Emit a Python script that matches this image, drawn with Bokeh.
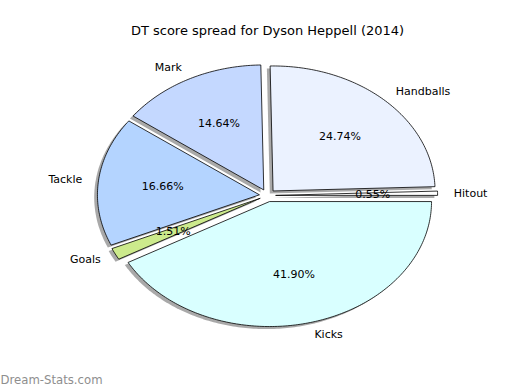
import numpy as np
from bokeh.plotting import figure
from bokeh.models import ColumnDataSource, Range1d, Label
from bokeh.embed import file_html
from bokeh.resources import INLINE
from bokeh.core.properties import value

# ---- data ----
labels = ["Hitout", "Handballs", "Mark", "Tackle", "Goals", "Kicks"]
percents = [0.55, 24.74, 14.64, 16.66, 1.51, 41.90]
colors = ["#ffffff", "#ebf2ff", "#c4d8ff", "#b4d4ff", "#ccea8c", "#d9ffff"]
explode = 0.05
title_text = "DT score spread for Dyson Heppell (2014)"
watermark = "Dream-Stats.com"

W, H = 520, 390
cx_px, cy_px = 267, 195      # pie centre within figure (px from left/top)
rx_px, ry_px = 162, 125      # radius in px along x / y

p = figure(width=W, height=H, output_backend="svg", toolbar_location=None,
           x_range=Range1d(-cx_px / rx_px, (W - cx_px) / rx_px),
           y_range=Range1d(-(H - cy_px) / ry_px, cy_px / ry_px),
           min_border=0)
p.axis.visible = False
p.grid.visible = False
p.outline_line_color = None
p.background_fill_color = "white"
p.border_fill_color = "white"

fr = np.array(percents) / sum(percents)
t2 = np.cumsum(fr) * 2 * np.pi
t1 = t2 - fr * 2 * np.pi
tm = (t1 + t2) / 2

xs, ys, sxs, sys_ = [], [], [], []
for a, b, m in zip(t1, t2, tm):
    ox, oy = explode * np.cos(m), explode * np.sin(m)
    th = np.linspace(a, b, max(4, int((b - a) / (2 * np.pi) * 400)))
    px = np.concatenate([[ox], ox + np.cos(th), [ox]])
    py = np.concatenate([[oy], oy + np.sin(th), [oy]])
    xs.append(list(px)); ys.append(list(py))
    sxs.append(list(px - 0.02)); sys_.append(list(py - 0.02))

p.patches(sxs, sys_, fill_color="#707070", fill_alpha=0.6, line_color=None)
p.patches(xs, ys, fill_color=colors, line_color="black", line_width=0.8)

lx = (explode + 1.1) * np.cos(tm)
ly = (explode + 1.1) * np.sin(tm)
align = ["left" if v > 0 else "right" for v in lx]
lab_src = ColumnDataSource(dict(x=lx, y=ly, t=labels, a=align))
p.text("x", "y", text="t", source=lab_src, text_align="a", text_baseline="middle",
       text_font=value("DejaVu Sans"), text_font_size="11px", text_color="black")

px_ = (explode + 0.6) * np.cos(tm)
py_ = (explode + 0.6) * np.sin(tm)
pct_src = ColumnDataSource(dict(x=px_, y=py_, t=["%.2f%%" % v for v in percents]))
p.text("x", "y", text="t", source=pct_src, text_align="center", text_baseline="middle",
       text_font=value("DejaVu Sans"), text_font_size="11px", text_color="black")

p.add_layout(Label(x=267, y=H - 30, x_units="screen", y_units="screen",
                   text=title_text, text_align="center", text_baseline="middle",
                   text_font="DejaVu Sans", text_font_size="13px", text_color="black"))
p.add_layout(Label(x=0, y=4, x_units="screen", y_units="screen",
                   text=watermark, text_align="left", text_baseline="bottom",
                   text_font="DejaVu Sans", text_font_size="11.7px",
                   text_color="#8e8e8e"))

open("out.html", "w").write(file_html(p, INLINE))
